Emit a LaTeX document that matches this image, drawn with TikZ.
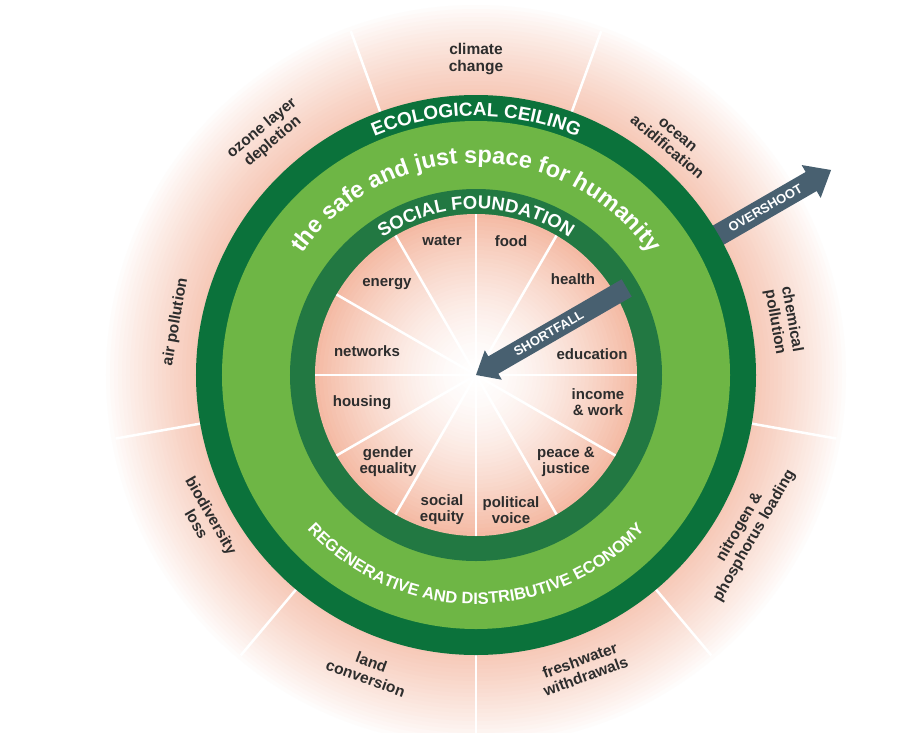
\documentclass[tikz,border=0pt]{standalone}
\usepackage{fontspec}
\setmainfont{Liberation Sans}
\usetikzlibrary{decorations.text}
\definecolor{ceiling}{RGB}{11,114,59}
\definecolor{safe}{RGB}{110,182,69}
\definecolor{found}{RGB}{34,120,66}
\definecolor{blush}{RGB}{244,186,164}
\definecolor{slate}{RGB}{72,96,112}
\definecolor{ink}{RGB}{45,45,45}

\begin{document}
\begin{tikzpicture}[x=1pt,y=1pt,
	lbl/.style={text=ink,font=\bfseries\fontsize{15}{16}\selectfont,align=center,inner sep=0pt},
	outlbl/.style={lbl,font=\bfseries\fontsize{15.5}{17}\selectfont},
	spoke/.style={white,line width=2.5pt},
	arrowtext/.style={text=white,font=\bfseries\fontsize{13}{13}\selectfont,inner sep=0pt,rotate=30},
	ringtext/.style={decorate,decoration={text along path,text align=center,text color=white,text={#1}}}]
		\useasboundingbox (-476,-357) rectangle (431,375);
		% pink halo round the doughnut
		\foreach \r in {374,370,...,278}{
			\pgfmathsetmacro\pct{82*((374-\r)/96)^0.9}
			\fill[blush!\pct!white] (0,0) circle (\r);
		}
		\foreach \a in {110,70,...,-170}
			\draw[spoke] (\a:280) -- (\a:366);
		% overshoot arrow
		\begin{scope}[rotate=30]
			\fill[slate] (255,-11) -- (387,-11) -- (387,-19) -- (410,0) -- (387,19) -- (387,11) -- (255,11) -- cycle;
		\end{scope}
		\node[arrowtext] (overshoot) at (30:334) {OVERSHOOT};
		% the rings
		\fill[ceiling] (0,0) circle (280);
		\fill[safe] (0,0) circle (254);
		\fill[found] (0,0) circle (186);
		\foreach \r in {161,157,...,1}{
			\pgfmathsetmacro\pct{100*(\r/161)^1.6}
			\fill[blush!\pct!white] (0,0) circle (\r);
		}
		\foreach \a in {0,30,...,330}
			\draw[spoke] (0,0) -- (\a:161);
		% shortfall arrow
		\begin{scope}[rotate=30]
			\fill[slate] (0,0) -- (20,-17) -- (20,-10) -- (174,-10) -- (174,10) -- (20,10) -- (20,17) -- cycle;
		\end{scope}
		\node[arrowtext] (shortfall) at (30:84) {SHORTFALL};
		% ring texts
		\path[ringtext={|\bfseries\fontsize{19}{19}\selectfont|ECOLOGICAL CEILING}] (180:259) arc (180:0:259);
		\path[ringtext={|\bfseries\fontsize{23.5}{23.5}\selectfont|the safe and just space for humanity}] (180:212) arc (180:0:212);
		\path[ringtext={|\bfseries\fontsize{18.5}{18.5}\selectfont|SOCIAL FOUNDATION}] (180:166) arc (180:0:166);
		\path[ringtext={|\bfseries\fontsize{16.5}{16.5}\selectfont|REGENERATIVE AND DISTRIBUTIVE ECONOMY}] (200:229) arc (200:340:229);
		% social foundation
		\node[lbl] (water) at (-34,134) {water};
		\node[lbl] (food) at (35,134) {food};
		\node[lbl] (health) at (97,96) {health};
		\node[lbl] (education) at (116,21) {education};
		\node[lbl] (income) at (122,-27) {income\\\& work};
		\node[lbl] (peace) at (90,-87) {peace \&\\justice};
		\node[lbl] (voice) at (35,-135) {political\\voice};
		\node[lbl] (equity) at (-34,-135) {social\\equity};
		\node[lbl] (gender) at (-88,-87) {gender\\equality};
		\node[lbl] (housing) at (-114,-28) {housing};
		\node[lbl] (networks) at (-109,24) {networks};
		\node[lbl] (energy) at (-89,91) {energy};
		% ecological ceiling
		\node[outlbl] (climate) at (90:316) {climate\\change};
		\node[outlbl,rotate=-40] (ocean) at (50:305) {ocean\\acidification};
		\node[outlbl,rotate=-80] (chemical) at (10:312) {chemical\\pollution};
		\node[outlbl,rotate=60] (nitrogen) at (-30:313) {nitrogen \&\\phosphorus loading};
		\node[outlbl,rotate=20] (freshwater) at (-70:312) {freshwater\\withdrawals};
		\node[outlbl,rotate=-20] (land) at (-110:314) {land\\conversion};
		\node[outlbl,rotate=-60] (biodiversity) at (-152:308) {biodiversity\\loss};
		\node[outlbl,rotate=80] (air) at (170:305) {air pollution};
		\node[outlbl,rotate=40] (ozone) at (131:318) {ozone layer\\depletion};
\end{tikzpicture}
\end{document}
